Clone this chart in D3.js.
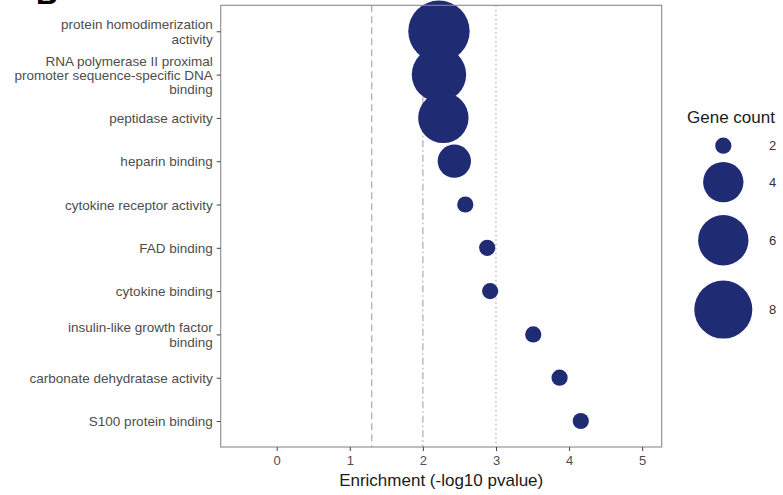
<!DOCTYPE html>
<html><head><meta charset="utf-8">
<script src="https://cdn.jsdelivr.net/npm/d3@7"></script>
<style>body{margin:0;background:#fff}svg{display:block;font-family:"Liberation Sans",Arial,Helvetica,sans-serif}</style>
</head><body><svg id="c" width="783" height="495"></svg>
<script>
const categories = [
  "protein homodimerization\nactivity",
  "RNA polymerase II proximal\npromoter sequence-specific DNA\nbinding",
  "peptidase activity",
  "heparin binding",
  "cytokine receptor activity",
  "FAD binding",
  "cytokine binding",
  "insulin-like growth factor\nbinding",
  "carbonate dehydratase activity",
  "S100 protein binding"
];
const enrichment = [2.22, 2.22, 2.28, 2.43, 2.58, 2.88, 2.92, 3.51, 3.87, 4.16];
const geneCount = [9, 7, 6, 3, 2, 2, 2, 2, 2, 2];
const xTicks = [0, 1, 2, 3, 4, 5];
const refLines = [1.3, 2, 3];
const legendCounts = [2, 4, 6, 8];

const svg = d3.select("#c");
const color = "#1f2c74";
const P = {l: 220.7, r: 661.7, t: 5.3, b: 447};

const x = d3.scaleLinear().domain([-0.766, 5.267]).range([P.l, P.r]);
const y = d3.scalePoint().domain(categories).range([P.t, P.b]).padding(0.6);
const cMin = 2, cMax = 9;
const frac = d3.scaleLinear().domain([cMin, cMax]).range([0, 1]);
const rLin = d3.scaleLinear().domain([0, 1]).range([8.1, 30.7]);
const r = v => rLin(Math.sqrt(frac(v)));

svg.append("rect").attr("x", P.l).attr("y", P.t).attr("width", P.r - P.l).attr("height", P.b - P.t)
  .attr("fill", "#fff");

const dashes = ["7,4", "1.5,3,7,3", "1.5,3"];
refLines.forEach((v, i) => {
  svg.append("line").attr("x1", x(v)).attr("x2", x(v)).attr("y1", P.t).attr("y2", P.b)
    .attr("stroke", "#ababab").attr("stroke-width", 1.2).attr("stroke-dasharray", dashes[i]);
});

const data = categories.map((c, i) => ({c, e: enrichment[i], n: geneCount[i]}));
svg.append("g").selectAll("circle").data(data).join("circle")
  .attr("cx", d => x(d.e)).attr("cy", d => y(d.c)).attr("r", d => r(d.n))
  .attr("fill", color);

svg.append("rect").attr("x", P.l).attr("y", P.t).attr("width", P.r - P.l).attr("height", P.b - P.t)
  .attr("fill", "none").attr("stroke", "#8a8a8a").attr("stroke-width", 1.1);

const xa = svg.append("g").attr("transform", `translate(0,${P.b})`)
  .call(d3.axisBottom(x).tickValues(xTicks).tickSize(4).tickPadding(5).tickFormat(d3.format("d")));
xa.select(".domain").remove();
xa.selectAll("line").attr("stroke", "#444");
xa.selectAll("text").attr("fill", "#4d4d4d").attr("font-size", 13).attr("font-family", null);

const ya = svg.append("g").attr("transform", `translate(${P.l},0)`)
  .call(d3.axisLeft(y).tickSize(4).tickPadding(4).tickFormat(""));
ya.select(".domain").remove();
ya.selectAll("line").attr("stroke", "#444");
const lh = 14.3;
ya.selectAll(".tick").each(function(d) {
  const lines = d.split("\n");
  const t = d3.select(this).append("text").attr("x", -8).attr("fill", "#4d4d4d")
    .attr("font-size", 13.5).attr("text-anchor", "end");
  lines.forEach((s, j) => {
    t.append("tspan").attr("x", -8).attr("y", (j - (lines.length - 1) / 2) * lh).attr("dy", "0.35em").text(s);
  });
});

svg.append("text").attr("x", (P.l + P.r) / 2).attr("y", 486).attr("text-anchor", "middle")
  .attr("font-size", 17).attr("fill", "#1a1a1a").text("Enrichment (-log10 pvalue)");

svg.append("text").attr("x", 36).attr("y", 4).attr("font-size", 30).attr("font-weight", "bold")
  .attr("fill", "#000").text("B");

const lg = svg.append("g");
lg.append("text").attr("x", 687).attr("y", 123).attr("font-size", 17).attr("fill", "#1a1a1a").text("Gene count");
let cy = 145.7, prevH = null;
legendCounts.forEach(v => {
  const d = 2 * r(v), h = 1.27 * d + 0.5;
  if (prevH !== null) cy += (prevH + h) / 2;
  lg.append("circle").attr("cx", 723.3).attr("cy", cy).attr("r", r(v)).attr("fill", color);
  lg.append("text").attr("x", 769).attr("y", cy).attr("dy", "0.35em").attr("font-size", 13)
    .attr("fill", "#333").text(v);
  prevH = h;
});
</script></body></html>
